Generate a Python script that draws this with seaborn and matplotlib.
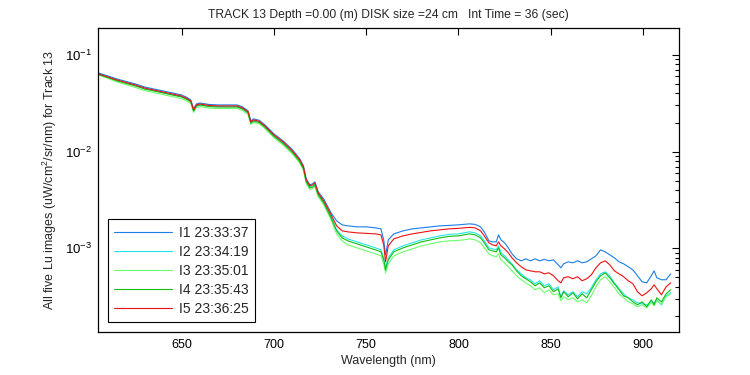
import matplotlib
matplotlib.use('Agg')
import matplotlib.pyplot as plt
from matplotlib.ticker import LogLocator, NullFormatter, FixedLocator
import seaborn as sns
import numpy as np
import pandas as pd

# wavelength grid (nm)
wavelength = [
    605, 610, 615, 620, 625, 630, 635, 640, 645, 650, 653, 655, 656.5, 658, 660,
    665, 670, 675, 680, 683, 686, 687.5, 689, 692, 695, 700, 705, 710, 714, 716,
    717.5, 719.5, 721, 722.2, 724, 727, 731,
    734, 737, 740, 745, 750, 755, 758, 759.5, 760.5, 762, 765, 770, 775, 780, 785,
    790, 795, 800,
    803, 806, 809, 812, 814, 816.5, 818.5, 820.5, 821.7, 823, 825, 827, 829, 831.5,
    834, 836.5, 839, 841.5, 844, 846.5, 849, 851.5, 854, 855.5, 857, 859.5, 862,
    864.5, 867, 869.5, 872, 874.5, 877, 879.5, 882, 884.5, 887, 889.5, 892, 894.5,
    897, 899.5, 902, 904.5, 906, 907.5, 910, 912.5, 915,
]

# Lu (uW/cm^2/sr/nm) for the five images
lu_i1 = [
    0.0650, 0.0607, 0.0564, 0.0531, 0.0501, 0.0466, 0.0444, 0.0424, 0.0405, 0.0385,
    0.0363, 0.0342, 0.0277, 0.0311, 0.0318, 0.0307, 0.0304, 0.0304, 0.0304, 0.0290,
    0.0264, 0.0208, 0.0218, 0.0211, 0.0190, 0.0153, 0.0129, 0.0105, 0.00842, 0.00713,
    0.00523, 0.00454, 0.00464, 0.00487, 0.00384, 0.00324, 0.00232,
    1.920e-3, 1.746e-3, 1.705e-3, 1.665e-3, 1.665e-3, 1.626e-3, 1.587e-3, 1.222e-3,
    0.855e-3, 1.222e-3, 1.409e-3, 1.514e-3, 1.587e-3, 1.626e-3, 1.665e-3, 1.705e-3,
    1.725e-3, 1.746e-3,
    1.767e-3, 1.788e-3, 1.767e-3, 1.665e-3, 1.478e-3, 1.193e-3, 1.165e-3, 1.165e-3,
    1.376e-3, 1.222e-3, 1.138e-3, 1.010e-3, 0.876e-3, 0.777e-3, 0.741e-3, 0.777e-3,
    0.741e-3, 0.777e-3, 0.741e-3, 0.768e-3, 0.741e-3, 0.759e-3, 0.674e-3, 0.628e-3,
    0.690e-3, 0.724e-3, 0.707e-3, 0.741e-3, 0.707e-3, 0.724e-3, 0.777e-3, 0.835e-3,
    0.963e-3, 0.918e-3, 0.855e-3, 0.796e-3, 0.724e-3, 0.690e-3, 0.643e-3, 0.598e-3,
    0.519e-3, 0.450e-3, 0.439e-3, 0.519e-3, 0.584e-3, 0.495e-3, 0.472e-3, 0.472e-3,
    0.544e-3,
]
lu_i2 = [
    0.0630, 0.0588, 0.0546, 0.0514, 0.0484, 0.0450, 0.0429, 0.0409, 0.0390, 0.0372,
    0.0350, 0.0330, 0.0266, 0.0300, 0.0307, 0.0296, 0.0293, 0.0293, 0.0293, 0.0279,
    0.0254, 0.0200, 0.0210, 0.0203, 0.0182, 0.0146, 0.0123, 0.00995, 0.00802, 0.00678,
    0.00498, 0.00432, 0.00441, 0.00463, 0.00365, 0.00300, 0.00211,
    1.550e-3, 1.344e-3, 1.251e-3, 1.165e-3, 1.085e-3, 1.010e-3, 0.963e-3, 0.796e-3,
    0.628e-3, 0.796e-3, 0.963e-3, 1.059e-3, 1.138e-3, 1.222e-3, 1.281e-3, 1.344e-3,
    1.392e-3, 1.409e-3,
    1.443e-3, 1.478e-3, 1.443e-3, 1.344e-3, 1.193e-3, 1.010e-3, 0.986e-3, 0.963e-3,
    1.059e-3, 0.897e-3, 0.835e-3, 0.759e-3, 0.690e-3, 0.598e-3, 0.544e-3, 0.495e-3,
    0.472e-3, 0.429e-3, 0.461e-3, 0.409e-3, 0.429e-3, 0.372e-3, 0.399e-3, 0.315e-3,
    0.363e-3, 0.330e-3, 0.355e-3, 0.315e-3, 0.355e-3, 0.338e-3, 0.390e-3, 0.472e-3,
    0.544e-3, 0.571e-3, 0.519e-3, 0.439e-3, 0.381e-3, 0.338e-3, 0.307e-3, 0.293e-3,
    0.273e-3, 0.266e-3, 0.260e-3, 0.279e-3, 0.273e-3, 0.293e-3, 0.260e-3, 0.322e-3,
    0.346e-3,
]
lu_i3 = [
    0.0620, 0.0572, 0.0525, 0.0492, 0.0461, 0.0428, 0.0408, 0.0389, 0.0371, 0.0353,
    0.0332, 0.0314, 0.0254, 0.0286, 0.0292, 0.0282, 0.0279, 0.0279, 0.0279, 0.0266,
    0.0242, 0.0191, 0.0200, 0.0194, 0.0174, 0.0139, 0.0117, 0.00946, 0.00760, 0.00640,
    0.00468, 0.00405, 0.00414, 0.00435, 0.00343, 0.00281, 0.00196,
    1.409e-3, 1.193e-3, 1.085e-3, 1.010e-3, 0.940e-3, 0.876e-3, 0.835e-3, 0.690e-3,
    0.557e-3, 0.690e-3, 0.835e-3, 0.918e-3, 0.986e-3, 1.059e-3, 1.111e-3, 1.165e-3,
    1.193e-3, 1.207e-3,
    1.222e-3, 1.251e-3, 1.222e-3, 1.138e-3, 1.010e-3, 0.876e-3, 0.835e-3, 0.815e-3,
    0.876e-3, 0.759e-3, 0.707e-3, 0.643e-3, 0.584e-3, 0.519e-3, 0.472e-3, 0.439e-3,
    0.409e-3, 0.372e-3, 0.390e-3, 0.346e-3, 0.372e-3, 0.330e-3, 0.338e-3, 0.286e-3,
    0.315e-3, 0.293e-3, 0.307e-3, 0.279e-3, 0.293e-3, 0.273e-3, 0.322e-3, 0.399e-3,
    0.472e-3, 0.507e-3, 0.450e-3, 0.390e-3, 0.338e-3, 0.307e-3, 0.279e-3, 0.266e-3,
    0.248e-3, 0.260e-3, 0.242e-3, 0.273e-3, 0.254e-3, 0.286e-3, 0.266e-3, 0.315e-3,
    0.338e-3,
]
lu_i4 = [
    0.0628, 0.0584, 0.0540, 0.0508, 0.0478, 0.0444, 0.0424, 0.0404, 0.0385, 0.0367,
    0.0345, 0.0326, 0.0263, 0.0296, 0.0303, 0.0292, 0.0289, 0.0289, 0.0289, 0.0276,
    0.0251, 0.0197, 0.0207, 0.0200, 0.0180, 0.0144, 0.0121, 0.00980, 0.00788, 0.00665,
    0.00487, 0.00421, 0.00430, 0.00452, 0.00356, 0.00295, 0.00206,
    1.514e-3, 1.281e-3, 1.193e-3, 1.111e-3, 1.034e-3, 0.963e-3, 0.918e-3, 0.759e-3,
    0.598e-3, 0.759e-3, 0.918e-3, 1.010e-3, 1.085e-3, 1.165e-3, 1.222e-3, 1.281e-3,
    1.328e-3, 1.344e-3,
    1.376e-3, 1.409e-3, 1.376e-3, 1.281e-3, 1.138e-3, 0.963e-3, 0.940e-3, 0.918e-3,
    1.010e-3, 0.855e-3, 0.796e-3, 0.724e-3, 0.674e-3, 0.584e-3, 0.519e-3, 0.483e-3,
    0.450e-3, 0.409e-3, 0.439e-3, 0.390e-3, 0.409e-3, 0.355e-3, 0.381e-3, 0.307e-3,
    0.355e-3, 0.315e-3, 0.346e-3, 0.300e-3, 0.338e-3, 0.307e-3, 0.372e-3, 0.450e-3,
    0.519e-3, 0.557e-3, 0.495e-3, 0.429e-3, 0.372e-3, 0.322e-3, 0.307e-3, 0.279e-3,
    0.260e-3, 0.279e-3, 0.248e-3, 0.293e-3, 0.260e-3, 0.307e-3, 0.279e-3, 0.338e-3,
    0.372e-3,
]
lu_i5 = [
    0.0636, 0.0593, 0.0551, 0.0519, 0.0489, 0.0455, 0.0434, 0.0414, 0.0395, 0.0376,
    0.0354, 0.0334, 0.0270, 0.0304, 0.0311, 0.0300, 0.0297, 0.0297, 0.0297, 0.0283,
    0.0258, 0.0203, 0.0213, 0.0206, 0.0185, 0.0149, 0.0126, 0.0102, 0.00822, 0.00696,
    0.00511, 0.00443, 0.00453, 0.00476, 0.00375, 0.00309, 0.00222,
    1.705e-3, 1.514e-3, 1.478e-3, 1.443e-3, 1.426e-3, 1.409e-3, 1.376e-3, 1.085e-3,
    0.724e-3, 1.059e-3, 1.251e-3, 1.344e-3, 1.409e-3, 1.460e-3, 1.514e-3, 1.550e-3,
    1.587e-3, 1.606e-3,
    1.626e-3, 1.645e-3, 1.626e-3, 1.514e-3, 1.344e-3, 1.138e-3, 1.085e-3, 1.059e-3,
    1.165e-3, 1.059e-3, 0.986e-3, 0.897e-3, 0.796e-3, 0.707e-3, 0.643e-3, 0.598e-3,
    0.584e-3, 0.571e-3, 0.571e-3, 0.544e-3, 0.557e-3, 0.519e-3, 0.461e-3, 0.439e-3,
    0.495e-3, 0.507e-3, 0.483e-3, 0.507e-3, 0.461e-3, 0.483e-3, 0.531e-3, 0.628e-3,
    0.707e-3, 0.741e-3, 0.674e-3, 0.584e-3, 0.544e-3, 0.507e-3, 0.461e-3, 0.429e-3,
    0.355e-3, 0.322e-3, 0.346e-3, 0.381e-3, 0.419e-3, 0.381e-3, 0.330e-3, 0.399e-3,
    0.439e-3,
]

image_labels = ['I1 23:33:37', 'I2 23:34:19', 'I3 23:35:01', 'I4 23:35:43', 'I5 23:36:25']
line_colors = ['#1A7FE8', '#22E6EE', '#6CFF6C', '#12BE12', '#EE1111']
x_ticks = [650, 700, 750, 800, 850, 900]

series = [lu_i1, lu_i2, lu_i3, lu_i4, lu_i5]
frames = []
for label, vals in zip(image_labels, series):
    frames.append(pd.DataFrame({'wavelength': wavelength, 'lu': vals, 'image': label}))
df = pd.concat(frames, ignore_index=True)

sns.set_style('white')
plt.rcParams['font.family'] = ['Liberation Sans', 'DejaVu Sans']
plt.rcParams['mathtext.fontset'] = 'custom'
plt.rcParams['mathtext.rm'] = 'Liberation Sans'
plt.rcParams['font.size'] = 9

fig = plt.figure(figsize=(7.5, 3.75), dpi=100)
ax = fig.add_axes([98 / 750, 43 / 375, 581 / 750, 304 / 375])

sns.lineplot(data=df, x='wavelength', y='lu', hue='image', palette=line_colors,
             estimator=None, sort=False, linewidth=0.8, ax=ax)

ax.set_yscale('log')
ax.set_xlim(604.7, 919.5)
ax.set_ylim(1.36e-4, 0.19)
ax.xaxis.set_major_locator(FixedLocator(x_ticks))
ax.yaxis.set_major_locator(LogLocator(base=10))
ax.yaxis.set_minor_locator(LogLocator(base=10, subs=np.arange(2, 10)))
ax.yaxis.set_minor_formatter(NullFormatter())

for side in ax.spines.values():
    side.set_color('black')
    side.set_linewidth(0.9)
ax.tick_params(which='both', direction='in', top=True, right=True, colors='black',
               labelsize=9)
ax.tick_params(which='major', length=5, width=0.8)
ax.tick_params(which='minor', length=3, width=0.8)
ax.tick_params(axis='x', pad=5)
ax.tick_params(axis='y', labelsize=9.5, pad=4)

ax.set_xlabel('Wavelength (nm)', fontsize=9, labelpad=3)
ax.set_ylabel(r'All five Lu images (uW/cm$^2$/sr/nm) for Track 13', fontsize=9)
ax.yaxis.set_label_coords(-0.067, 0.5)
ax.set_title('TRACK 13 Depth =0.00 (m) DISK size =24 cm   Int Time = 36 (sec)',
             fontsize=8.7, pad=7)

handles, labels = ax.get_legend_handles_labels()
leg = ax.legend(handles, labels, loc='lower left', bbox_to_anchor=(0.017, 0.033),
                borderaxespad=0, frameon=True, fancybox=False, framealpha=1,
                edgecolor='black', fontsize=10, handlelength=4.2, handletextpad=0.45,
                labelspacing=0.36, borderpad=0.45)
leg.get_frame().set_linewidth(0.8)

fig.savefig('out.png', dpi=100)
